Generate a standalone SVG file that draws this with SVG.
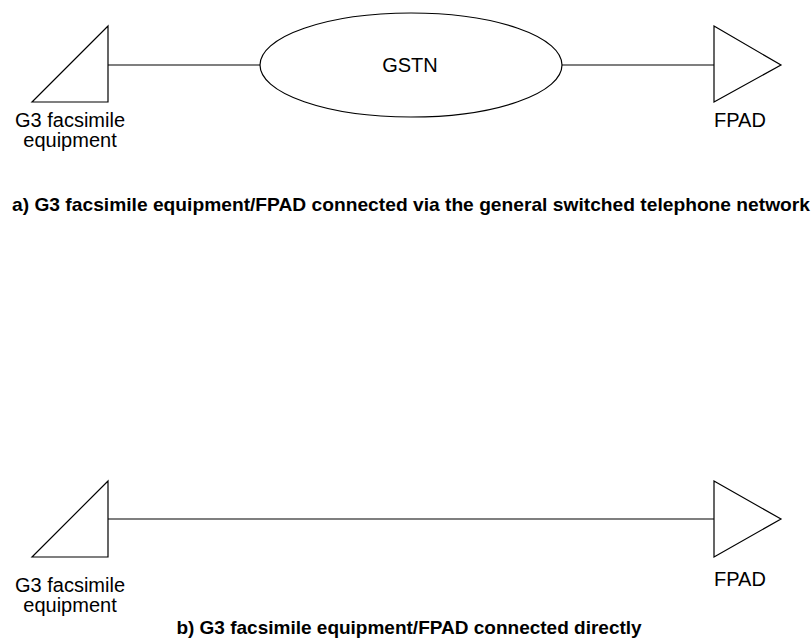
<svg xmlns="http://www.w3.org/2000/svg" width="812" height="639" viewBox="0 0 812 639">
  <style>
    .shape { fill: #ffffff; stroke: #000000; stroke-width: 1.2; }
    .wire { fill: none; stroke: #000000; stroke-width: 1.2; }
    .label { font-family: "Liberation Sans", Arial, sans-serif; font-size: 20px; fill: #000000; }
    .caption { font-family: "Liberation Sans", Arial, sans-serif; font-size: 19px; font-weight: bold; fill: #000000; }
  </style>
  <rect width="812" height="639" fill="#ffffff"/>

  <!-- a) connection through the GSTN -->
  <g id="connectors-a">
    <line class="wire" x1="108" y1="65" x2="260" y2="65"/>
    <line class="wire" x1="562" y1="65" x2="714" y2="65"/>
  </g>
  <g id="g3-fax-a">
    <polygon class="shape" points="32,102 108,26 108,102"/>
    <text class="label" x="70" y="127" text-anchor="middle">G3 facsimile</text>
    <text class="label" x="70" y="147" text-anchor="middle">equipment</text>
  </g>
  <g id="gstn">
    <ellipse class="shape" cx="411" cy="65" rx="151" ry="52"/>
    <text class="label" x="410" y="72" text-anchor="middle">GSTN</text>
  </g>
  <g id="fpad-a">
    <polygon class="shape" points="714,26 781,65 714,102"/>
    <text class="label" x="714" y="127">FPAD</text>
  </g>
  <text class="caption" x="12" y="211" textLength="798" lengthAdjust="spacingAndGlyphs">a) G3 facsimile equipment/FPAD connected via the general switched telephone network</text>

  <!-- b) direct connection -->
  <g id="connectors-b">
    <line class="wire" x1="108" y1="519" x2="714" y2="519"/>
  </g>
  <g id="g3-fax-b">
    <polygon class="shape" points="32,557 108,481 108,557"/>
    <text class="label" x="70" y="592" text-anchor="middle">G3 facsimile</text>
    <text class="label" x="70" y="612" text-anchor="middle">equipment</text>
  </g>
  <g id="fpad-b">
    <polygon class="shape" points="714,481 781,519 714,557"/>
    <text class="label" x="714" y="586">FPAD</text>
  </g>
  <text class="caption" x="409" y="634" text-anchor="middle">b) G3 facsimile equipment/FPAD connected directly</text>
</svg>
